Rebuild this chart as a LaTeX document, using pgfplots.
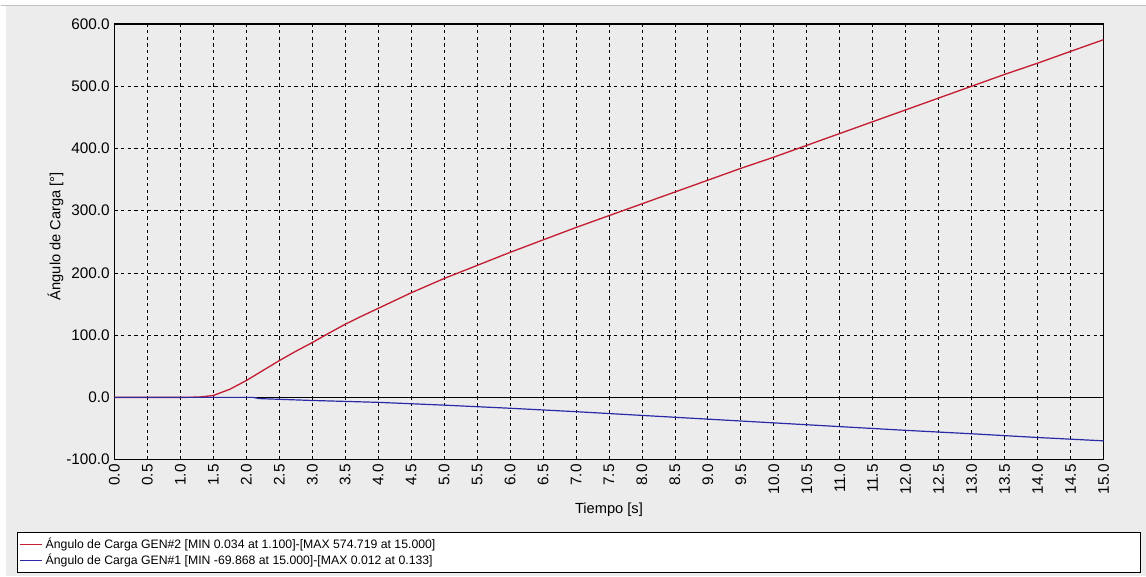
\documentclass[border=0pt]{standalone}
\usepackage{pgfplots}
\pgfplotsset{compat=1.18}
\usepackage{fontspec}
\setmainfont{Liberation Sans}
\definecolor{panel}{HTML}{ECECEC}
\definecolor{redline}{HTML}{C41E34}
\definecolor{blueline}{HTML}{2A2AA8}
\begin{document}
\begin{tikzpicture}
% background panel (pixel grid: 1px = 0.75pt)
\fill[panel] (0pt,0pt) rectangle (859.5pt,432.75pt);
\fill[white] (0pt,428.25pt) rectangle (859.5pt,432.75pt);
\fill[white] (0pt,0pt) rectangle (4.5pt,432.75pt);
\draw[gray!50, line width=0.75pt] (0pt,428.25pt) -- (859.5pt,428.25pt);
% legend box
\draw[black, fill=white, line width=0.75pt] (12.75pt,3pt) rectangle (855.75pt,33pt);
\begin{axis}[
  at={(85.5pt,87.75pt)}, anchor=south west,
  scale only axis, width=742.5pt, height=327pt,
  xmin=0, xmax=15, ymin=-100, ymax=600,
  xtick={0,0.5,...,15}, ytick={-100,0,...,600},
  grid=major,
  major grid style={black, line width=0.6pt, dash pattern=on 2.5pt off 2.5pt},
  major tick length=0pt,
  axis background/.style={fill=panel},
  axis line style={black, line width=0.8pt},
  xticklabel style={rotate=90, anchor=east, font=\fontsize{11.5}{12}\selectfont, xshift=0pt},
  yticklabel style={font=\fontsize{11.5}{12}\selectfont},
  /pgf/number format/.cd, fixed, fixed zerofill, precision=1, assume math mode=true,
  /pgfplots/.cd,
  extra y ticks={0}, extra y tick labels={},
  extra y tick style={grid=major, major grid style={solid, black, line width=0.8pt}},
  xlabel={Tiempo [s]}, ylabel={Ángulo de Carga [°]},
  every axis x label/.style={at={(axis description cs:0.5,-0.115)}, anchor=center, font=\fontsize{11}{12}\selectfont},
  every axis y label/.style={at={(axis description cs:-0.0596,0.513)}, rotate=90, anchor=center, font=\fontsize{11}{12}\selectfont},
  legend style={at={(axis description cs:-0.098,-0.170)}, anchor=north west, draw=none, fill=none,
    font=\fontsize{9.2}{10}\selectfont, row sep=-1.5pt, inner sep=1pt},
  legend cell align=left,
  legend image code/.code={\draw[#1] (0pt,0pt) -- (17pt,0pt);},
]
\addplot[redline, line width=1pt] coordinates {
(0,0) (1.1,0.034) (1.3,0.6) (1.5,3) (1.75,13) (2.0,27) (2.25,43) (2.5,59) (2.75,74) (3.0,88)
(3.25,103) (3.5,117.5) (3.75,130.5) (4.0,143) (4.5,168) (5.0,191) (5.5,212) (6.0,233) (6.5,253)
(7.0,273) (7.5,292) (8.0,311) (8.5,330) (9.0,349) (9.5,368) (10.0,386) (10.5,405)
(11.0,424) (11.5,443) (12.0,462) (12.5,481) (13.0,500) (13.5,519) (14.0,537) (14.5,556) (15.0,574.719)
};
\addlegendentry{Ángulo de Carga GEN\#2 [MIN 0.034 at 1.100]-[MAX 574.719 at 15.000]}
\addplot[blueline, line width=0.9pt] coordinates {
(0,0) (0.133,0.012) (2.1,0) (2.2,-2) (3.0,-5) (4.0,-8) (5.0,-12.5) (6.0,-17.5) (7.0,-23)
(8.0,-29) (9.0,-35) (10.0,-41) (11.0,-47) (12.0,-53) (13.0,-58.5) (14.0,-64.5) (15.0,-69.868)
};
\addlegendentry{Ángulo de Carga GEN\#1 [MIN -69.868 at 15.000]-[MAX 0.012 at 0.133]}
\end{axis}
\end{tikzpicture}
\end{document}
